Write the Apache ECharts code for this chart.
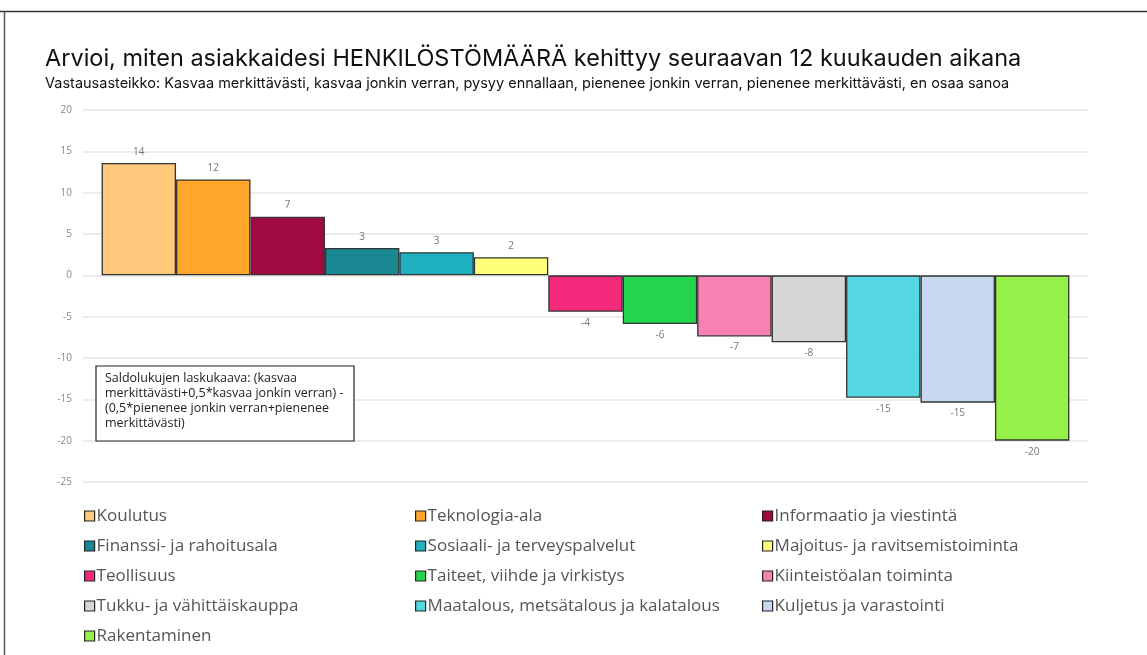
<!DOCTYPE html>
<html>
<head>
<meta charset="utf-8">
<script src="https://cdn.jsdelivr.net/npm/echarts@6/dist/echarts.min.js"></script>
<style>
  html, body { margin: 0; padding: 0; background: #fff; }
  #main { width: 1147px; height: 655px; }
</style>
</head>
<body>
<div id="main"></div>
<script>
// toimialat (series) and their saldoluku values
var categories = ['Koulutus', 'Teknologia-ala', 'Informaatio ja viestintä', 'Finanssi- ja rahoitusala',
    'Sosiaali- ja terveyspalvelut', 'Majoitus- ja ravitsemistoiminta', 'Teollisuus',
    'Taiteet, viihde ja virkistys', 'Kiinteistöalan toiminta', 'Tukku- ja vähittäiskauppa',
    'Maatalous, metsätalous ja kalatalous', 'Kuljetus ja varastointi', 'Rakentaminen'];
var values = [13.6, 11.6, 7.1, 3.3, 2.8, 2.2, -4.4, -5.9, -7.4, -8.1, -14.8, -15.4, -20.0];
var colors = ['#FFC87A', '#FFA62B', '#A00A43', '#1A8892', '#1FB0C0', '#FFFF7A', '#F32A7B',
    '#25D44E', '#F881B3', '#D6D6D6', '#55D6E3', '#C6D9F0', '#96F04A'];
var yTicks = [-25, -20, -15, -10, -5, 0, 5, 10, 15, 20];

var titleText = 'Arvioi, miten asiakkaidesi HENKILÖSTÖMÄÄRÄ kehittyy seuraavan 12 kuukauden aikana';
var subText = 'Vastausasteikko: Kasvaa merkittävästi, kasvaa jonkin verran, pysyy ennallaan, pienenee jonkin verran, pienenee merkittävästi, en osaa sanoa';
var noteLines = ['Saldolukujen laskukaava: (kasvaa', 'merkittävästi+0,5*kasvaa jonkin verran) -',
    '(0,5*pienenee jonkin verran+pienenee', 'merkittävästi)'];

// legend columns as in the picture
var legendCols = [
    [0, 3, 6, 9, 12],
    [1, 4, 7, 10],
    [2, 5, 8, 11]
];
var legendLeft = [79, 410, 757];

var series = categories.map(function (name, i) {
    return {
        name: name,
        type: 'bar',
        barGap: '0%',
        barCategoryGap: '3.7%',
        itemStyle: { color: colors[i], borderColor: '#333', borderWidth: 1.3 },
        label: {
            show: true,
            position: values[i] >= 0 ? 'top' : 'bottom',
            distance: 6,
            color: '#777',
            fontSize: 10,
            fontFamily: 'Open Sans',
            formatter: function (p) { return Math.round(p.value); }
        },
        data: [values[i]]
    };
});

var legends = legendCols.map(function (col, k) {
    return {
        orient: 'vertical',
        left: legendLeft[k],
        top: 501,
        itemWidth: 10,
        itemHeight: 10,
        itemGap: 10,
        icon: 'rect',
        selectedMode: false,
        textStyle: { color: '#555', fontSize: 17, fontFamily: 'Open Sans', lineHeight: 20, padding: [0, 0, 0, -3] },
        data: col.map(function (j) {
            return { name: categories[j], itemStyle: { color: colors[j], borderColor: '#222', borderWidth: 1.2 } };
        })
    };
});

var myChart = echarts.init(document.getElementById('main'));
var option = {
    backgroundColor: '#fff',
    animation: false,
    title: {
        text: titleText,
        subtext: subText,
        left: 40,
        top: 42,
        itemGap: 5,
        textStyle: { color: '#111', fontSize: 23.5, fontWeight: 'normal', fontFamily: 'Inter' },
        subtextStyle: { color: '#111', fontSize: 14.5, fontFamily: 'Inter' }
    },
    legend: legends,
    grid: { left: 83, right: 59, top: 110, bottom: 173 },
    xAxis: {
        type: 'category',
        data: [''],
        axisLine: { show: false },
        axisTick: { show: false },
        axisLabel: { show: false }
    },
    yAxis: {
        type: 'value',
        min: yTicks[0],
        max: yTicks[yTicks.length - 1],
        interval: 5,
        axisLine: { show: false },
        axisTick: { show: false },
        axisLabel: { color: '#888', fontSize: 10, fontFamily: 'Open Sans', margin: 11 },
        splitLine: { lineStyle: { color: '#e6e6e6', width: 1.5 } }
    },
    graphic: [
        { type: 'line', shape: { x1: 0, y1: 11.5, x2: 1147, y2: 11.5 }, style: { stroke: '#333', lineWidth: 1.5 } },
        { type: 'line', shape: { x1: 4.5, y1: 11, x2: 4.5, y2: 655 }, style: { stroke: '#555', lineWidth: 1.5 } },
        { type: 'rect', shape: { x: 96, y: 366, width: 258, height: 75 }, style: { fill: '#fff', stroke: '#222', lineWidth: 1.2 }, z: 100 },
        { type: 'text', left: 105, top: 371, z: 101,
          style: { text: noteLines.join('\n'), fill: '#222', fontSize: 12.5, lineHeight: 15, fontFamily: 'Open Sans' } }
    ],
    series: series
};
myChart.setOption(option);
</script>
</body>
</html>
